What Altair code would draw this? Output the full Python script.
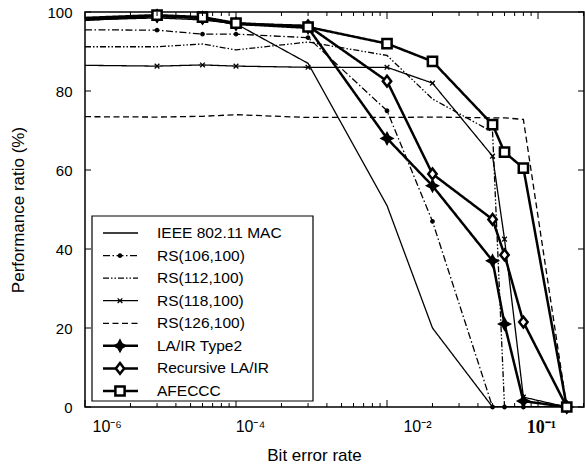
import json
import altair as alt
import pandas as pd

# Bit error rates at which every scheme was measured
ber = [1e-4, 3e-4, 6e-4, 1e-3, 3e-3, 1e-2, 2e-2, 5e-2, 6e-2, 8e-2, 0.155]

series_names = [
    "IEEE 802.11 MAC", "RS(106,100)", "RS(112,100)", "RS(118,100)",
    "RS(126,100)", "LA/IR Type2", "Recursive LA/IR", "AFECCC",
]

# Performance ratio (%) per scheme, one value per BER above
ieee = [98.0, 98.5, 98.0, 97.0, 87.0, 51.0, 20.0, 0.0, 0.0, 0.0, 0.0]
rs106 = [95.5, 95.4, 94.4, 94.4, 93.5, 75.0, 47.0, 0.0, 0.0, 0.0, 0.0]
rs112 = [91.2, 91.2, 91.9, 90.4, 92.4, 89.0, 78.0, 69.6, 0.0, 0.0, 0.0]
rs118 = [86.5, 86.3, 86.6, 86.3, 86.0, 86.0, 82.0, 63.5, 42.5, 2.5, 0.0]
rs126 = [73.5, 73.4, 73.6, 74.0, 73.3, 73.3, 73.4, 73.2, 73.2, 72.8, 0.0]
lair_type2 = [98.0, 99.0, 98.5, 97.0, 96.0, 68.0, 56.0, 37.0, 21.0, 1.5, 0.0]
recursive_lair = [98.3, 99.0, 98.5, 97.0, 96.5, 82.5, 59.0, 47.5, 38.5, 21.5, 0.0]
afeccc = [98.5, 99.2, 98.7, 97.2, 96.2, 92.0, 87.5, 71.5, 64.5, 60.5, 0.0]

series_values = [ieee, rs106, rs112, rs118, rs126, lair_type2, recursive_lair, afeccc]

# Axis ticks and their printed labels
x_tick_values = [1e-4, 1e-3, 1e-2, 1e-1]
x_tick_labels = ["10⁻⁶", "10⁻⁴", "10⁻²", "10⁻¹"]
y_tick_values = [0, 20, 40, 60, 80, 100]

# Line styles
dashes = [[1, 0], [7, 2.5, 1.5, 2.5], [6, 2, 1.5, 2, 1.5, 2], [1, 0], [6, 3.5], [1, 0], [1, 0], [1, 0]]
widths = [1.3, 1.3, 1.3, 1.3, 1.3, 2.5, 2.5, 2.5]

# Marker styles (only some schemes carry markers)
marker_series = ["RS(106,100)", "RS(118,100)", "LA/IR Type2", "Recursive LA/IR", "AFECCC"]
marker_shapes = [
    "circle",
    "M-1,-1L1,1M-1,1L1,-1",
    "M0,-1L0.35,-0.35L1,0L0.35,0.35L0,1L-0.35,0.35L-1,0L-0.35,-0.35Z",
    "M0,-1L0.78,0L0,1L-0.78,0Z",
    "square",
]
marker_sizes = [12, 22, 95, 115, 85]
marker_fills = ["black", "transparent", "black", "white", "white"]
marker_strokes = [1.0, 1.2, 1.0, 1.9, 2.0]

W, H = 499, 395
x_min, x_max = 1e-4, 0.2016

rows = []
for name, vals in zip(series_names, series_values):
    for b, v in zip(ber, vals):
        rows.append({"series": name, "marker": name, "ber": b, "ratio": v})
df = pd.DataFrame(rows)

label_expr = json.dumps(x_tick_labels, ensure_ascii=False) + "[round(log(datum.value)/LN10) + 4]"

x_scale = alt.Scale(type="log", domain=[x_min, x_max], nice=False)
y_scale = alt.Scale(domain=[0, 100], nice=False, zero=False)

x_axis = alt.Axis(
    values=x_tick_values,
    labelExpr=label_expr,
    labelFontSize={"condition": {"test": "datum.value > 0.05", "value": 18}, "value": 16},
    labelFont={"condition": {"test": "datum.value > 0.05", "value": "Liberation Serif"}, "value": "Liberation Sans"},
    labelFontWeight={"condition": {"test": "datum.value > 0.05", "value": "bold"}, "value": "normal"},
    labelOffset={"condition": [
        {"test": "datum.value > 0.05", "value": 3},
        {"test": "datum.value > 0.005", "value": 30},
        {"test": "datum.value > 0.0005", "value": 14},
    ], "value": 7},
    labelPadding=11,
    labelBaseline="top",
    tickSize=0,
    title="Bit error rate",
    titleFontSize=17,
    titleX=229,
    titleY=40,
)
y_axis = alt.Axis(
    values=y_tick_values,
    labelFontSize=15,
    labelPadding=13,
    tickSize=0,
    title="Performance ratio (%)",
    titleFontSize=17,
    titlePadding=19,
)

dash_scale = alt.Scale(type="ordinal", domain=series_names, range=dashes)
width_scale = alt.Scale(type="ordinal", domain=series_names, range=widths)
shape_scale = alt.Scale(type="ordinal", domain=marker_series, range=marker_shapes)
size_scale = alt.Scale(type="ordinal", domain=marker_series, range=marker_sizes)
fill_scale = alt.Scale(type="ordinal", domain=marker_series, range=marker_fills)
mstroke_scale = alt.Scale(type="ordinal", domain=marker_series, range=marker_strokes)

base = alt.Chart(df)

lines = base.mark_line(color="black", clip=True).encode(
    x=alt.X("ber:Q", scale=x_scale, axis=x_axis),
    y=alt.Y("ratio:Q", scale=y_scale, axis=y_axis),
    detail="series:N",
    strokeDash=alt.StrokeDash("series:N", scale=dash_scale, legend=None),
    strokeWidth=alt.StrokeWidth("series:N", scale=width_scale, legend=None),
)

points = base.mark_point(stroke="black", opacity=1, fillOpacity=1).encode(
    x=alt.X("ber:Q", scale=x_scale),
    y=alt.Y("ratio:Q", scale=y_scale),
    shape=alt.Shape("marker:N", scale=shape_scale, legend=None),
    size=alt.Size("marker:N", scale=size_scale, legend=None),
    fill=alt.Fill("marker:N", scale=fill_scale, legend=None),
    strokeWidth=alt.StrokeWidth("marker:N", scale=mstroke_scale, legend=None),
).transform_filter(
    alt.FieldOneOfPredicate(field="marker", oneOf=marker_series)
).transform_filter("datum.ber > 1.5e-4")

# Inward tick marks on all four sides of the frame
minor_x = [k * 10.0 ** n for n in range(-4, 0) for k in range(2, 10) if k * 10.0 ** n <= x_max]
xmaj_df = pd.DataFrame({"ber": x_tick_values})
xmin_df = pd.DataFrame({"ber": minor_x})
ytick_df = pd.DataFrame({"ratio": y_tick_values})

tick_style = dict(color="black", strokeWidth=1)
xmaj_bottom = alt.Chart(xmaj_df).mark_rule(**tick_style).encode(
    x=alt.X("ber:Q", scale=x_scale), y=alt.value(H), y2=alt.value(H - 7))
xmaj_top = alt.Chart(xmaj_df).mark_rule(**tick_style).encode(
    x=alt.X("ber:Q", scale=x_scale), y=alt.value(0), y2=alt.value(7))
xmin_bottom = alt.Chart(xmin_df).mark_rule(**tick_style).encode(
    x=alt.X("ber:Q", scale=x_scale), y=alt.value(H), y2=alt.value(H - 4))
xmin_top = alt.Chart(xmin_df).mark_rule(**tick_style).encode(
    x=alt.X("ber:Q", scale=x_scale), y=alt.value(0), y2=alt.value(4))
ytick_left = alt.Chart(ytick_df).mark_rule(**tick_style).encode(
    y=alt.Y("ratio:Q", scale=y_scale), x=alt.value(0), x2=alt.value(6))
ytick_right = alt.Chart(ytick_df).mark_rule(**tick_style).encode(
    y=alt.Y("ratio:Q", scale=y_scale), x=alt.value(W - 6), x2=alt.value(W))

main = alt.layer(lines, points, xmaj_bottom, xmaj_top, xmin_bottom, xmin_top, ytick_left, ytick_right)

# Legend drawn inside the plot area
leg_df = pd.DataFrame({"series": series_names, "marker": series_names})
leg_y = alt.Y("series:N", scale=alt.Scale(type="point", domain=series_names, range=[221, 379], padding=0), axis=None)

leg_box = alt.Chart(pd.DataFrame({"k": [0]})).mark_rect(
    fill="white", stroke="black", strokeWidth=1.2
).encode(x=alt.value(7), x2=alt.value(228), y=alt.value(204), y2=alt.value(389))

leg_lines = alt.Chart(leg_df).mark_rule(color="black").encode(
    y=leg_y, x=alt.value(18), x2=alt.value(53),
    strokeDash=alt.StrokeDash("series:N", scale=dash_scale, legend=None),
    strokeWidth=alt.StrokeWidth("series:N", scale=width_scale, legend=None),
)
leg_points = alt.Chart(leg_df).mark_point(stroke="black", opacity=1, fillOpacity=1).encode(
    y=leg_y, x=alt.value(35),
    shape=alt.Shape("marker:N", scale=shape_scale, legend=None),
    size=alt.Size("marker:N", scale=size_scale, legend=None),
    fill=alt.Fill("marker:N", scale=fill_scale, legend=None),
    strokeWidth=alt.StrokeWidth("marker:N", scale=mstroke_scale, legend=None),
).transform_filter(alt.FieldOneOfPredicate(field="marker", oneOf=marker_series))
leg_text = alt.Chart(leg_df).mark_text(
    align="left", baseline="middle", fontSize=15.5, font="Liberation Sans", color="black"
).encode(y=leg_y, x=alt.value(72), text="series:N")

legend = alt.layer(leg_box, leg_lines, leg_points, leg_text)

chart = alt.layer(main, legend).resolve_scale(y="independent").properties(
    width=W, height=H,
    padding={"left": 85, "top": 12, "right": 1, "bottom": 63},
    autosize=alt.AutoSizeParams(type="none"),
    background="white",
).configure_view(
    stroke="black", strokeWidth=1.5
).configure_axis(
    labelFont="Liberation Sans", titleFont="Liberation Sans",
    labelColor="black", titleColor="black", titleFontWeight="normal",
    domain=False, ticks=False, grid=False,
)

chart.save("out.html", embed_options={"renderer": "svg", "actions": False})
